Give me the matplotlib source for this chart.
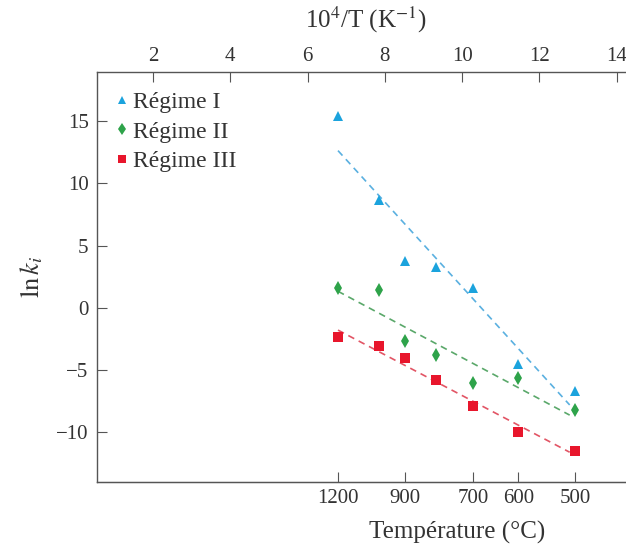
import numpy as np
import matplotlib
matplotlib.use("Agg")
import matplotlib.pyplot as plt

# ---- data ----
temperatures_C = [1200, 1000, 900, 800, 700, 600, 500]
regime_I = [15.4, 8.64, 3.74, 3.28, 1.62, -4.49, -6.69]
regime_II = [1.62, 1.41, -2.67, -3.79, -6.01, -5.64, -8.21]
regime_III = [-2.35, -3.07, -4.06, -5.80, -7.92, -10.0, -11.48]
series_labels = ["Régime I", "Régime II", "Régime III"]
top_ticks = [2, 4, 6, 8, 10, 12, 14]
bottom_tick_temps = [1200, 900, 700, 600, 500]
y_ticks = [-10, -5, 0, 5, 10, 15]

plt.rcParams['font.family'] = ['Liberation Serif', 'DejaVu Serif']
plt.rcParams['mathtext.fontset'] = 'stix'

txt = '#333333'
spine_c = '#555555'

def inv_T(tc):
    return 1e4 / (np.asarray(tc, dtype=float) + 273.15)

x = inv_T(temperatures_C)

fig = plt.figure(figsize=(6.26, 5.44), dpi=100)
# axes extends slightly beyond right edge (right spine cut off, as in reference)
ax_right_px = 634
ax = fig.add_axes([97/626, 1-482/544, (ax_right_px-97)/626, (482-72)/544])

styles = [
    dict(marker='^', color='#1ba3dd', ms=6.5, line='#5ab0e0'),
    dict(marker='d', color='#2ea34a', ms=7, line='#5aa86a'),
    dict(marker='s', color='#e8162c', ms=6.5, line='#e25565'),
]
for ys, lab, st in zip([regime_I, regime_II, regime_III], series_labels, styles):
    ys = np.asarray(ys)
    ax.plot(x, ys, linestyle='none', marker=st['marker'], color=st['color'],
            ms=st['ms'], mew=0, label=lab, zorder=3)
    a, b = np.polyfit(x, ys, 1)
    xf = np.array([x.min(), x.max() - 0.15])
    ax.plot(xf, a * xf + b, linestyle=(0, (4, 3)), color=st['line'], lw=1.2, zorder=2)

px_per_unit = 38.64
x0_px = 75.7
ax.set_xlim((97 - x0_px) / px_per_unit, (ax_right_px - x0_px) / px_per_unit)
ax.set_ylim(-14, 18.95)

# top axis: 10^4/T
ax.xaxis.set_ticks_position('top')
ax.xaxis.set_label_position('top')
ax.set_xticks(top_ticks)
ax.set_xticklabels([str(t) for t in top_ticks])
ax.set_xlabel(r'10$^4$/T (K$^{-1}$)', fontsize=18, color=txt, labelpad=14)
ax.tick_params(axis='x', which='both', direction='in', length=7, width=0.8,
               colors=spine_c, labelcolor=txt, labelsize=15, pad=4)

# bottom axis: temperature
sec = ax.secondary_xaxis('bottom')
sec.set_xticks(inv_T(bottom_tick_temps))
sec.set_xticklabels([str(t) for t in bottom_tick_temps])
sec.tick_params(direction='in', length=7, width=0.8, colors=spine_c,
                labelcolor=txt, labelsize=15, pad=5)
sec.spines['bottom'].set_color(spine_c)
fig.text(457/626, 1-532/544, 'Température (°C)', fontsize=18, color=txt,
         ha='center', va='center')

ax.set_yticks(y_ticks)
ax.set_yticklabels([('\u2212' + str(-t)) if t < 0 else str(t) for t in y_ticks])
ax.tick_params(axis='y', direction='in', length=7, width=0.8, colors=spine_c,
               labelcolor=txt, labelsize=15, pad=6)
ax.set_ylabel(r'$\ln k_i$', fontsize=19, color=txt, labelpad=8)

for s in ax.spines.values():
    s.set_color(spine_c)
    s.set_linewidth(1.0)

leg = ax.legend(loc='upper left', frameon=False, fontsize=17, handlelength=0.5,
                handletextpad=0.2, labelspacing=0.33, borderaxespad=0.0,
                bbox_to_anchor=(0.018, 0.975), markerscale=0.9)
for t in leg.get_texts():
    t.set_color(txt)

fig.savefig('out.png', dpi=100)
